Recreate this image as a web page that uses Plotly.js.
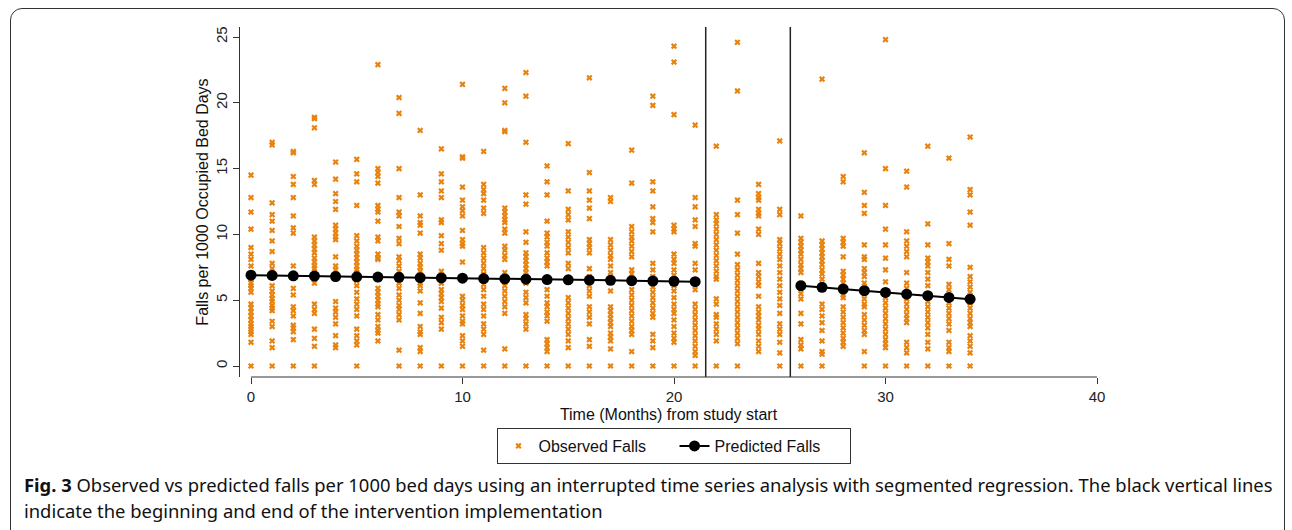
<!DOCTYPE html>
<html>
<head>
<meta charset="utf-8">
<script src="https://cdn.plot.ly/plotly-3.0.1.min.js"></script>
<style>
  html, body { margin: 0; padding: 0; background: #fff; }
  #wrap { position: relative; width: 1292px; height: 530px; overflow: hidden; }
  #chart { position: absolute; left: 0; top: 0; width: 1292px; height: 530px; }
  #frame { position: absolute; left: 10px; top: 8px; width: 1273px; height: 560px;
           border: 1.5px solid #333; border-radius: 12px; pointer-events: none; }
</style>
</head>
<body>
<div id="wrap">
  <div id="chart"></div>
  <div id="frame"></div>
</div>
<script>
// Months from study start (0..34)
const months = [0,1,2,3,4,5,6,7,8,9,10,11,12,13,14,15,16,17,18,19,20,21,22,23,24,25,26,27,28,29,30,31,32,33,34];

// Observed falls per 1000 occupied bed days, one list per month
const observedByMonth = [
  [14.5,12.8,11.7,10.4,9.0,8.5,8.1,7.6,7.0,6.6,6.3,6.1,5.9,5.6,4.7,4.4,4.1,3.8,3.5,3.2,3.0,2.8,2.6,2.4,1.8,0],
  [17.0,16.8,12.4,11.5,11.0,10.3,9.5,8.7,7.8,7.4,6.1,5.7,5.4,5.1,4.9,4.6,4.4,4.2,3.4,3.0,1.9,1.4,0],
  [16.3,16.2,14.4,13.8,12.8,11.4,10.5,10.1,7.6,5.9,5.4,4.5,4.2,3.8,3.1,2.9,2.6,2.0,0],
  [18.9,18.8,18.1,14.1,13.8,9.8,9.5,9.2,8.9,8.6,8.2,7.9,7.6,7.4,6.9,6.6,6.3,4.7,4.3,4.0,2.8,2.1,1.5,0],
  [15.5,14.2,13.1,12.5,11.9,10.7,10.4,10.1,9.8,9.6,8.3,7.6,7.3,7.0,6.8,6.6,4.9,4.4,4.1,3.7,3.2,2.3,1.6,1.4],
  [15.7,14.6,14.0,12.2,9.9,9.5,9.1,8.8,8.5,8.2,7.9,7.6,7.3,7.1,6.8,6.5,6.1,5.6,5.1,4.7,4.3,3.8,2.8,2.3,1.9,1.6,0],
  [22.9,15.0,14.7,14.4,13.9,12.2,11.9,11.7,11.0,9.8,9.5,8.5,8.2,8.1,6.7,5.9,5.6,5.3,5.0,4.7,4.5,3.9,3.5,3.0,2.7,2.5,1.9],
  [20.4,19.2,15.0,12.8,11.7,11.4,10.6,9.7,9.3,8.3,8.0,7.6,7.2,6.8,6.3,5.9,5.4,5.0,4.6,4.3,3.9,3.5,1.2,0],
  [17.9,13.0,11.4,10.9,10.7,10.1,8.5,8.2,7.8,7.5,7.2,6.9,6.6,6.3,6.1,5.7,4.8,4.0,3.0,2.6,2.4,1.4,1.1,0],
  [16.5,14.6,14.0,13.3,12.8,11.1,10.9,9.9,9.3,8.8,7.2,6.9,6.6,6.3,5.8,5.5,5.2,4.9,4.4,3.7,3.3,2.8,0],
  [21.4,15.9,15.8,13.6,12.6,12.1,11.8,11.4,10.3,9.6,9.3,9.1,7.9,5.3,5.0,4.6,4.3,3.8,3.4,3.2,2.3,1.9,1.5,0],
  [16.3,13.8,13.4,13.1,12.6,12.0,11.6,9.0,8.6,8.2,7.8,7.4,7.0,6.6,6.2,5.8,5.3,4.7,4.3,3.8,3.2,2.8,2.4,1.2,0],
  [21.1,20.0,17.9,17.8,12.0,11.7,11.4,11.1,10.9,10.4,10.1,9.1,8.8,8.4,8.1,7.1,6.8,6.4,6.1,5.7,5.3,4.9,4.5,4.0,1.3,0],
  [22.3,20.5,17.0,13.0,12.3,10.2,9.4,8.6,8.3,8.0,7.7,7.4,7.1,6.7,6.3,5.6,5.2,4.8,3.9,3.6,3.2,2.8,0],
  [15.2,14.0,13.0,11.0,10.1,9.8,9.4,9.1,8.6,8.2,7.9,7.6,6.7,5.8,5.3,4.8,4.5,4.1,3.8,3.4,2.0,1.7,1.4,1.1,0],
  [16.9,13.3,11.9,11.5,11.1,10.2,9.8,9.4,9.0,8.6,7.8,7.4,5.2,4.8,4.4,4.0,3.6,3.2,2.8,2.4,1.9,1.4,0],
  [21.9,14.7,13.3,12.6,12.0,11.2,9.6,9.3,9.0,8.6,7.4,6.8,6.1,5.7,5.3,4.5,4.1,3.7,3.2,2.0,1.5,0],
  [12.8,12.5,9.6,9.2,8.8,8.4,8.1,7.6,7.1,5.7,4.5,4.2,3.9,3.6,3.3,3.0,2.5,2.2,1.9,1.3,0],
  [16.4,13.9,10.6,10.2,9.8,9.5,9.1,8.7,8.3,7.3,7.0,6.6,6.3,5.8,5.4,5.0,4.6,4.2,3.8,3.4,3.0,2.7,2.4,1.1,0],
  [20.5,19.8,14.0,13.3,12.1,11.2,10.9,10.2,7.8,7.3,6.8,6.4,6.0,5.6,5.2,4.8,4.4,4.0,3.7,2.4,1.9,1.4,0],
  [24.3,23.1,19.1,10.7,10.4,10.2,8.5,8.1,7.8,7.3,6.9,6.6,6.1,5.7,5.2,4.7,4.3,4.0,3.5,3.0,2.5,2.1,1.8,0],
  [18.3,12.8,12.1,11.1,10.6,9.3,9.1,7.8,7.3,5.8,4.7,4.3,3.9,3.5,3.1,2.7,2.3,1.9,1.5,1.1,0.8,0],
  [16.7,11.5,11.1,10.8,10.4,10.0,9.6,9.2,8.8,8.4,8.0,7.6,7.2,6.8,6.6,5.1,4.7,3.9,3.7,3.2,2.8,2.4,1.9,0],
  [24.6,20.9,12.6,11.5,10.1,8.5,7.7,7.3,6.9,6.5,6.1,5.7,5.3,4.9,4.5,4.1,3.7,3.3,2.9,2.5,2.1,1.7,0],
  [13.8,13.1,12.8,12.6,11.9,11.6,11.4,10.4,10.0,7.8,7.1,6.8,6.4,6.1,5.3,4.5,4.1,3.8,3.5,3.1,2.8,2.4,1.9,1.5,1.1],
  [17.1,11.9,11.5,9.6,9.3,8.9,8.5,8.1,7.6,7.1,6.6,6.1,5.6,5.1,4.6,4.0,3.2,2.8,2.4,1.8,1.0,0],
  [11.4,9.7,9.4,9.1,8.8,8.5,8.1,7.7,7.4,7.1,6.3,5.9,5.5,5.1,4.0,3.2,2.0,1.6,1.3,0],
  [21.8,9.5,9.2,8.9,8.6,8.3,8.0,7.7,7.3,7.0,6.6,4.7,4.3,3.8,3.3,2.7,1.9,1.1,0.9,0],
  [14.4,14.0,9.7,9.4,9.1,8.3,7.2,6.9,6.6,6.3,5.4,5.2,4.5,4.1,3.7,3.3,2.9,2.5,2.1,1.8,1.5],
  [16.2,13.2,12.2,11.6,9.2,8.3,8.1,7.4,7.1,6.8,6.3,5.9,5.5,5.1,4.7,4.5,3.9,3.5,3.1,2.7,2.4,1.1,0],
  [24.8,15.0,12.2,10.4,9.2,8.2,7.3,6.4,5.6,5.2,4.8,4.4,4.0,3.6,3.2,2.8,2.4,2.0,1.7,1.4,0],
  [14.8,13.6,10.2,9.5,9.1,8.7,8.3,7.1,6.3,5.9,5.5,5.1,4.7,4.3,3.9,3.6,3.3,1.8,1.4,1.0,0],
  [16.7,10.8,9.2,8.2,7.9,7.6,7.1,6.6,6.1,5.3,4.9,4.5,4.1,3.7,3.3,2.9,2.4,1.8,1.3,0],
  [15.8,9.3,8.1,7.6,6.2,5.8,5.3,4.8,4.4,4.0,3.6,3.2,2.7,1.8,1.4,1.1,0],
  [17.4,13.4,13.0,11.7,10.7,7.5,6.8,6.4,6.0,5.6,5.3,4.8,4.4,4.0,3.6,3.3,3.0,2.3,1.9,1.5,1.0,0]
];

// Predicted falls (segmented regression); no prediction during implementation (months 22-25)
const predicted = [6.90,6.88,6.85,6.83,6.80,6.78,6.76,6.74,6.71,6.69,6.67,6.64,6.62,6.60,6.57,6.55,6.53,6.51,6.48,6.46,6.44,6.41,
                   null,null,null,null,
                   6.10,5.98,5.85,5.72,5.59,5.46,5.34,5.21,5.08];

// Intervention start / end (vertical lines)
const interventionLines = [21.5, 25.5];

const xTicks = [0,10,20,30,40];
const yTicks = [0,5,10,15,20,25];

const obsX = [], obsY = [];
observedByMonth.forEach((vals, i) => { vals.forEach(v => { obsX.push(months[i]); obsY.push(v); }); });

const ORANGE = '#E8830F';
const AX = '#333333';
const FONT = 'Liberation Sans, Arial, sans-serif';
const CAP_FONT = 'Noto Sans, Open Sans, sans-serif';

const traces = [
  { type: 'scatter', mode: 'markers', name: 'Observed Falls', x: obsX, y: obsY,
    marker: { symbol: 'x', size: 5.5, color: ORANGE, line: { width: 0 } } },
  { type: 'scatter', mode: 'lines+markers', name: 'Predicted Falls', x: months, y: predicted,
    connectgaps: false,
    line: { color: '#000', width: 2 },
    marker: { symbol: 'circle', size: 11, color: '#000' } }
];

const shapes = interventionLines.map(v => ({
  type: 'line', xref: 'x', yref: 'paper', x0: v, x1: v, y0: 0, y1: 1,
  line: { color: '#222', width: 1.5 }
}));
shapes.push({ type: 'line', xref: 'x', yref: 'paper', x0: xTicks[0], x1: xTicks[xTicks.length-1], y0: 0, y1: 0,
  line: { color: AX, width: 1 } });

const layout = {
  width: 1292, height: 530,
  margin: { l: 240, r: 195, t: 27, b: 153 },
  paper_bgcolor: '#fff', plot_bgcolor: '#fff',
  font: { family: FONT, color: '#222', size: 15 },
  showlegend: true,
  legend: { orientation: 'h', x: 0.507, xanchor: 'center', y: -0.1457, yanchor: 'top',
            bordercolor: '#333', borderwidth: 1, font: { family: FONT, size: 16, color: '#111' },
            itemwidth: 30, entrywidth: 131, entrywidthmode: 'pixels', traceorder: 'normal' },
  xaxis: { range: [-0.52, 40], tickvals: xTicks, ticks: 'outside', ticklen: 6, tickwidth: 1, tickcolor: AX,
           showgrid: false, zeroline: false, showline: false,
           tickfont: { family: FONT, size: 15, color: '#222' },
           title: { text: 'Time (Months) from study start', font: { family: FONT, size: 16, color: '#111' }, standoff: 4 } },
  yaxis: { range: [-0.836, 25.76], tickvals: yTicks, tickangle: -90, ticks: 'outside', ticklen: 6, tickwidth: 1, tickcolor: AX,
           showgrid: false, zeroline: false, showline: true, linecolor: AX, linewidth: 1,
           tickfont: { family: FONT, size: 15, color: '#222' },
           title: { text: 'Falls per 1000 Occupied Bed Days', font: { family: FONT, size: 16, color: '#111' }, standoff: 0 } },
  shapes: shapes,
  annotations: [
    { xref: 'paper', yref: 'paper', x: (22-240)/857, y: (377-499)/350, xanchor: 'left', yanchor: 'bottom',
      align: 'left', showarrow: false,
      font: { family: CAP_FONT, size: 18.4, color: '#111' },
      text: '<b>Fig. 3</b> Observed vs predicted falls per 1000 bed days using an interrupted time series analysis with segmented regression. The black vertical lines' },
    { xref: 'paper', yref: 'paper', x: (22-240)/857, y: (377-525)/350, xanchor: 'left', yanchor: 'bottom',
      align: 'left', showarrow: false,
      font: { family: CAP_FONT, size: 18.4, color: '#111' },
      text: 'indicate the beginning and end of the intervention implementation' }
  ]
};

Plotly.newPlot('chart', traces, layout, { displayModeBar: false, staticPlot: true });
</script>
</body>
</html>
